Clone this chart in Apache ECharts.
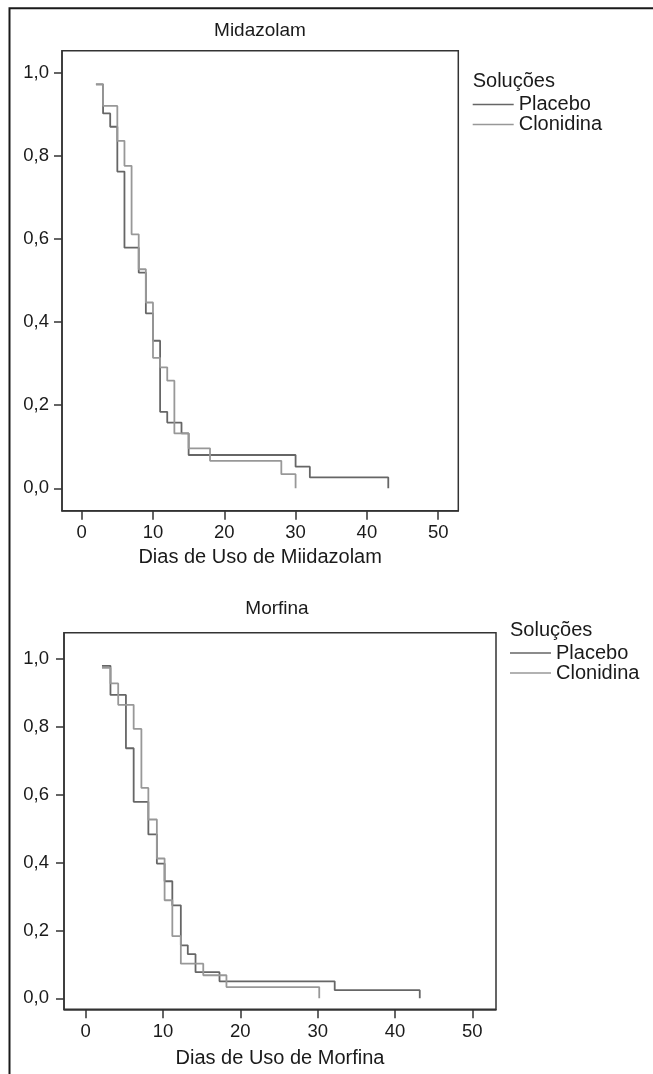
<!DOCTYPE html>
<html>
<head>
<meta charset="utf-8">
<script src="https://cdn.jsdelivr.net/npm/echarts@6/dist/echarts.min.js"></script>
<style>
html,body{margin:0;padding:0;background:#ffffff;}
#chart{width:653px;height:1074px;}
</style>
</head>
<body>
<div id="chart"></div>
<script>
// ---- data ----
const xTicks = [0, 10, 20, 30, 40, 50];
const yTicks = [0, 0.2, 0.4, 0.6, 0.8, 1.0];
const seriesNames = ['Placebo', 'Clonidina'];

// Midazolam – Kaplan-Meier steps (day, proportion)
const midazolamDaysPlacebo = [2, 3, 4, 5, 6, 8, 9, 10, 11, 12, 14, 15, 30, 32, 43];
const midazolamSurvPlacebo = [0.972, 0.902, 0.870, 0.762, 0.579, 0.519, 0.421, 0.355, 0.184, 0.158, 0.132, 0.080, 0.052, 0.026, 0];
const midazolamDaysClonidina = [2, 3, 5, 6, 7, 8, 9, 10, 11, 12, 13, 15, 18, 28, 30];
const midazolamSurvClonidina = [0.972, 0.920, 0.836, 0.776, 0.611, 0.527, 0.447, 0.314, 0.291, 0.259, 0.132, 0.096, 0.066, 0.034, 0];

// Morfina – Kaplan-Meier steps (day, proportion)
const morfinaDaysPlacebo = [2.1, 3.2, 5.2, 6.2, 8.1, 9.2, 10.2, 11.2, 12.3, 13.2, 14.2, 17.3, 32.2, 43.2];
const morfinaSurvPlacebo = [0.980, 0.894, 0.737, 0.579, 0.483, 0.397, 0.345, 0.274, 0.156, 0.130, 0.077, 0.050, 0.024, 0];
const morfinaDaysClonidina = [2.1, 3.2, 4.2, 6.2, 7.2, 8.1, 9.2, 10.2, 11.2, 12.3, 15.2, 18.2, 30.2];
const morfinaSurvClonidina = [0.974, 0.928, 0.865, 0.794, 0.620, 0.527, 0.412, 0.289, 0.183, 0.102, 0.068, 0.033, 0];

// ---- helpers ----
const FONT = 'Liberation Sans';
const TXT = '#1a1a1a';
const AX = '#333333';
const COLORS = {Placebo: '#666666', Clonidina: '#989898'};

function zip(xs, ys) { return xs.map((x, i) => [x, ys[i]]); }
function fmtY(v) { return v.toFixed(1).replace('.', ','); }

function xAxisCfg(gi, name, min, max, nameGap) {
  return {
    gridIndex: gi, type: 'value', min: min, max: max,
    axisLine: {show: true, onZero: false, lineStyle: {color: AX, width: 1.5}},
    axisTick: {show: true, length: 9, customValues: xTicks, lineStyle: {color: AX, width: 1.5}},
    axisLabel: {customValues: xTicks, margin: 13, fontSize: 18.5, color: TXT, fontFamily: FONT},
    splitLine: {show: false},
    name: name, nameLocation: 'middle', nameGap: nameGap,
    nameTextStyle: {fontSize: 20, color: TXT, fontFamily: FONT}
  };
}
function yAxisCfg(gi, min, max, margin) {
  return {
    gridIndex: gi, type: 'value', min: min, max: max,
    axisLine: {show: true, onZero: false, lineStyle: {color: AX, width: 1.5}},
    axisTick: {show: true, length: 8, customValues: yTicks, lineStyle: {color: AX, width: 1.5}},
    axisLabel: {customValues: yTicks, margin: margin, fontSize: 18.5, color: TXT, fontFamily: FONT, formatter: fmtY},
    splitLine: {show: false}
  };
}
function km(name, gi, xs, ys) {
  return {
    type: 'line', name: name, xAxisIndex: gi, yAxisIndex: gi,
    step: 'end', symbol: 'none', showSymbol: false, animation: false,
    data: zip(xs, ys),
    lineStyle: {color: COLORS[name], width: 1.8},
    itemStyle: {color: COLORS[name]}
  };
}
function legendCfg(left, top) {
  return {
    left: left, top: top, orient: 'vertical', padding: 0,
    icon: 'rect', itemWidth: 41, itemHeight: 1.6, itemGap: 0,
    data: seriesNames, selectedMode: false,
    textStyle: {fontSize: 20, lineHeight: 20, color: TXT, fontFamily: FONT}
  };
}

const chart = echarts.init(document.getElementById('chart'), null, {renderer: 'canvas'});
chart.setOption({
  backgroundColor: '#ffffff',
  animation: false,
  grid: [
    {left: 62, top: 50.7, width: 396.3, height: 460, show: true, borderColor: AX, borderWidth: 1.5, backgroundColor: 'transparent'},
    {left: 64, top: 632.7, width: 432, height: 376.6, show: true, borderColor: AX, borderWidth: 1.5, backgroundColor: 'transparent'}
  ],
  xAxis: [
    xAxisCfg(0, 'Dias de Uso de Miidazolam', -2.76, 52.82, 37),
    xAxisCfg(1, 'Dias de Uso de Morfina', -2.81, 53.06, 39)
  ],
  yAxis: [
    yAxisCfg(0, -0.054, 1.053, 13),
    yAxisCfg(1, -0.0324, 1.0775, 15)
  ],
  legend: [legendCfg(472.7, 94.5), legendCfg(510, 643)],
  series: [
    km('Placebo', 0, midazolamDaysPlacebo, midazolamSurvPlacebo),
    km('Clonidina', 0, midazolamDaysClonidina, midazolamSurvClonidina),
    km('Placebo', 1, morfinaDaysPlacebo, morfinaSurvPlacebo),
    km('Clonidina', 1, morfinaDaysClonidina, morfinaSurvClonidina)
  ],
  graphic: [
    {type: 'rect', silent: true, shape: {x: 9.5, y: 8.3, width: 1000, height: 2000},
     style: {fill: 'none', stroke: '#1a1a1a', lineWidth: 2}},
    {type: 'text', x: 260, y: 31, silent: true,
     style: {text: 'Midazolam', fontSize: 19, fontFamily: FONT, fill: TXT, textAlign: 'center', textVerticalAlign: 'middle'}},
    {type: 'text', x: 277, y: 609, silent: true,
     style: {text: 'Morfina', fontSize: 19, fontFamily: FONT, fill: TXT, textAlign: 'center', textVerticalAlign: 'middle'}},
    {type: 'text', x: 472.7, y: 81, silent: true,
     style: {text: 'Soluções', fontSize: 20, fontFamily: FONT, fill: TXT, textAlign: 'left', textVerticalAlign: 'middle'}},
    {type: 'text', x: 510, y: 630, silent: true,
     style: {text: 'Soluções', fontSize: 20, fontFamily: FONT, fill: TXT, textAlign: 'left', textVerticalAlign: 'middle'}}
  ]
});
</script>
</body>
</html>
